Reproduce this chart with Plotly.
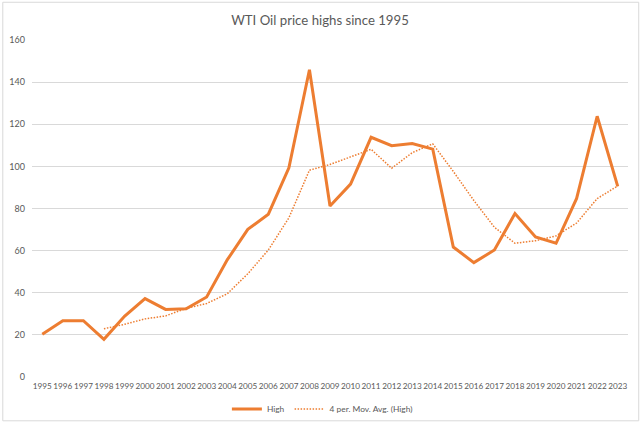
import plotly.graph_objects as go

# WTI oil price yearly highs (USD/bbl)
years = [str(y) for y in range(1995, 2024)]
high = [20.3, 26.7, 26.7, 17.9, 28.8, 37.2, 32.1, 32.4, 38.0, 55.6,
        70.1, 77.3, 99.3, 145.9, 81.2, 91.6, 113.8, 109.8, 110.8, 108.2,
        61.7, 54.3, 60.3, 77.6, 66.5, 63.5, 84.8, 123.8, 90.5]
# 4 period moving average trendline (first three periods empty)
mov_avg = [None, None, None, 22.9, 25.0, 27.6, 29.0, 32.6, 34.9, 39.5,
           49.0, 60.3, 75.6, 98.2, 100.9, 104.5, 108.1, 99.1, 106.5, 110.7,
           97.6, 83.8, 71.1, 63.5, 64.7, 67.0, 73.1, 84.7, 90.7]
y_ticks = [0, 20, 40, 60, 80, 100, 120, 140, 160]

ORANGE = "#ED7D31"
GREY_TXT = "#595959"
GRID = "#D9D9D9"

fig = go.Figure()
fig.add_trace(go.Scatter(
    x=years, y=high, mode="lines", name="High",
    line=dict(color=ORANGE, width=3),
))
fig.add_trace(go.Scatter(
    x=years, y=mov_avg, mode="lines", name="4 per. Mov. Avg. (High)",
    line=dict(color=ORANGE, width=1.5, dash="1.5px,1.5px"),
))

fig.update_layout(
    width=640, height=425,
    paper_bgcolor="white", plot_bgcolor="white",
    font=dict(family="Lato, Open Sans, sans-serif", color=GREY_TXT, size=9),
    title=dict(text="WTI Oil price highs since 1995", x=0.5, xanchor="center",
               yref="container", y=1 - 20 / 425, yanchor="middle",
               font=dict(size=13.2, color=GREY_TXT)),
    margin=dict(l=32, r=12, t=40, b=48, autoexpand=False),
    showlegend=True,
    legend=dict(orientation="h", x=0.327, xanchor="left",
                yref="container", y=16 / 425, yanchor="middle",
                font=dict(size=8.4, color=GREY_TXT), itemwidth=30,
                bgcolor="rgba(0,0,0,0)"),
    xaxis=dict(type="category", range=[-0.5, 28.5], tickangle=0, automargin=False,
               showgrid=False, showline=False, zeroline=False,
               ticks="", ticklabelstandoff=3,
               tickfont=dict(size=8.2, color=GREY_TXT)),
    yaxis=dict(range=[0, 160], tickvals=y_ticks, showgrid=True, gridcolor=GRID,
               gridwidth=1, zeroline=False, showline=False, ticks="", automargin=False,
               ticklabelstandoff=6, tickfont=dict(size=9, color=GREY_TXT)),
    shapes=[dict(type="rect", xref="paper", yref="paper",
                 x0=-0.049, x1=1.018, y0=-0.13, y1=1.112,
                 line=dict(color="#D9D9D9", width=1))],
)

# page body has an 8px default margin; drop it so the chart sits at 0,0
fig.write_html("out.html", config={"displayModeBar": False},
               post_script="document.body.style.margin='0';")
